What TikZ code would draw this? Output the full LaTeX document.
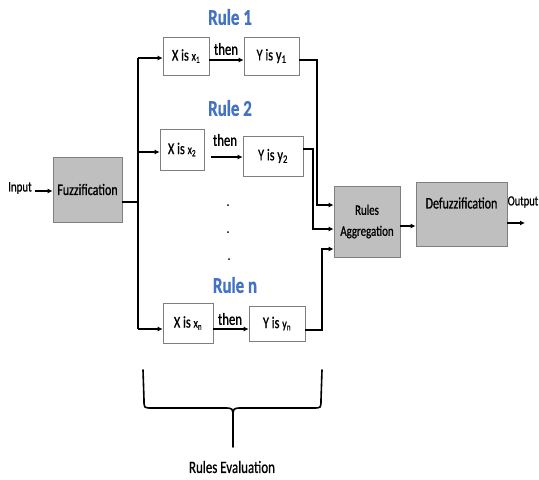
\documentclass[tikz,border=0pt]{standalone}
\usepackage{fontspec}
\setmainfont{Carlito}[FakeStretch=0.75,FakeBold=0.8]
\usetikzlibrary{arrows.meta}
\definecolor{rulebl}{HTML}{4472C4}
\definecolor{boxgray}{HTML}{BFBFBF}
\definecolor{edgegray}{HTML}{7F7F7F}
\newcommand{\fs}[1]{\fontsize{#1}{#1}\selectfont}
\newcommand{\smallvar}[2]{{\fs{13.5}#1\textsubscript{#2}}}
\begin{document}
\begin{tikzpicture}[x=1pt,y=-1pt,
  arr/.style={line width=1.6pt,-{Latex[length=5pt,width=5pt]}},
  wire/.style={line width=1.6pt},
  procbox/.style={draw=edgegray,line width=0.8pt,fill=boxgray,inner sep=0pt},
  condbox/.style={draw=edgegray,line width=0.6pt,fill=white,inner sep=0pt,
    font=\fs{16.5}},
  ruletitle/.style={font=\fs{22.5}\bfseries,text=rulebl},
  thenlbl/.style={font=\fs{17}},
  dotmark/.style={circle,fill=black,inner sep=0pt,minimum size=2pt},
  brace/.style={line width=1.6pt,line cap=round,line join=round}]
\useasboundingbox (0,0) rectangle (539,480);

% input and fuzzification
\node[font=\fs{14.5}] (input) at (20,188) {Input};
\node[procbox,minimum width=69pt,minimum height=65pt,font=\fs{16}] (fuzz)
  at (87.5,189.5) {Fuzzification};
\draw[arr] (input.east |- 0,191) -- (fuzz.west |- 0,191);

% distribution bus
\coordinate (bus) at (138,202);
\coordinate (bustop) at (138,58);
\coordinate (busbot) at (138,329);
\draw[wire] (fuzz.east |- bus) -- (bus);
\draw[wire] (bustop) -- (busbot);

% rule 1
\node[ruletitle] (r1) at (230,17) {Rule 1};
\node[condbox,minimum width=46pt,minimum height=38pt] (x1) at (186,56) {X is \smallvar{x}{1}};
\node[condbox,minimum width=55pt,minimum height=38pt] (y1) at (271.5,56) {Y is y\textsubscript{1}};
\node[thenlbl] (t1) at (226,49) {then};
\draw[arr] (bustop) -- (bustop -| x1.west);
\draw[arr] (x1.east |- 0,60) -- (y1.west |- 0,60);

% rule 2
\node[ruletitle] (r2) at (230,108) {Rule 2};
\node[condbox,minimum width=44pt,minimum height=41pt] (x2) at (182,149.5) {X is \smallvar{x}{2}};
\node[condbox,minimum width=60pt,minimum height=40pt] (y2) at (273,156) {Y is y\textsubscript{2}};
\node[thenlbl] (t2) at (225,140) {then};
\draw[arr] (bustop |- 0,152) -- (x2.west |- 0,152);
\draw[arr,shorten <=7pt] (x2.east |- 0,157) -- (y2.west |- 0,157);

% ellipsis between rules
\node[dotmark] (d1) at (228,205) {};
\node[dotmark] (d2) at (228,232) {};
\node[dotmark] (d3) at (229,259) {};

% rule n
\node[ruletitle] (rn) at (235,285) {Rule n};
\node[condbox,minimum width=50pt,minimum height=40pt] (xn) at (188,323) {X is \smallvar{x}{n}};
\node[condbox,minimum width=56pt,minimum height=35pt] (yn) at (277,323.5) {Y is \smallvar{y}{n}};
\node[thenlbl] (tn) at (230,319) {then};
\draw[arr] (busbot) -- (busbot -| xn.west);
\draw[arr] (xn.east |- 0,329) -- (yn.west |- 0,329);

% aggregation and defuzzification
\node[procbox,minimum width=66pt,minimum height=71pt,align=center,
  font=\fontsize{14.5}{21}\selectfont] (agg) at (367,221.5) {Rules\\Aggregation};
\node[procbox,minimum width=91pt,minimum height=64pt] (defuzz) at (461.5,214) {};
\node[font=\fs{16}] (deflbl) at (461.5,203) {Defuzzification};
\node[font=\fs{14}] (outlbl) at (523,202) {Output};
\coordinate (outend) at (525,223);

\draw[arr] (y1.east |- 0,60) -- (317,60) |- (agg.west |- 0,205);
\draw[arr] (y2.east |- 0,149) -- (313,149) |- (agg.west |- 0,229);
\draw[arr] (yn.east |- 0,330) -- (322,330) |- (agg.west |- 0,249);
\draw[arr] (agg.east |- 0,226) -- (defuzz.west |- 0,226);
\draw[arr] (defuzz.east |- outend) -- (outend);

% brace gathering the rules
\coordinate (tip) at (233,447);
\draw[brace] (143,370) -- (144,400) .. controls (144,408) .. (152,408) -- (224,408)
  .. controls (233,408) .. (233,418) -- (tip);
\draw[brace] (322,370) -- (321,400) .. controls (321,408) .. (313,408) -- (242,408)
  .. controls (233,408) .. (233,418);
\node[font=\fs{17.3}] (evl) at (232,467) {Rules Evaluation};
\end{tikzpicture}
\end{document}
